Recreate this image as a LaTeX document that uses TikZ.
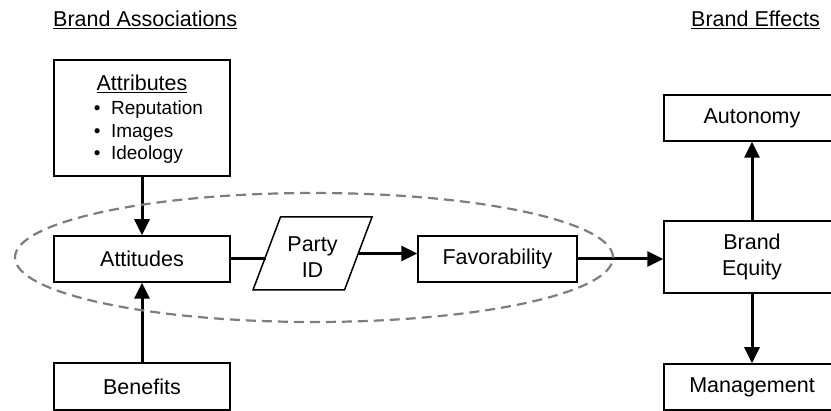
\documentclass[tikz,border=0pt]{standalone}
\usepackage{fontspec}
\setmainfont{Liberation Sans}
\usepackage{tikz}
\usetikzlibrary{shapes.geometric, arrows.meta, positioning}
\definecolor{ovalgray}{RGB}{125,125,125}

\begin{document}
\begin{tikzpicture}[x=1pt, y=-1pt, >={Triangle[length=16pt,width=15pt]},
    blockbox/.style={draw, line width=1.5pt, minimum width=176pt, minimum height=46pt, inner sep=0pt, align=center, font=\fontsize{21.5}{26}\selectfont},
    flow/.style={->, line width=3pt},
    heading/.style={anchor=base west, inner sep=0pt, font=\fontsize{21.5}{26}\selectfont},
    item/.style={anchor=base west, inner sep=0pt, font=\fontsize{19}{22}\selectfont}]
    \useasboundingbox (0,0) rectangle (831,411);
    \clip (0,0) rectangle (831,411);

    % Column headings
    \node[heading] (assoc) at (53,27) {\underline{Brand Associations}};
    \node[heading] (effects) at (691,27) {\underline{Brand Effects}};

    % Brand associations
    \node[blockbox, minimum height=116pt] (attr) at (142,118) {};
    \node[heading, anchor=base] (attrtitle) at (142,91) {\underline{Attributes}};
    \node[item] (rep) at (93.7,115) {\textbullet\hspace{10.5pt}Reputation};
    \node[item] (img) at (93.7,137.5) {\textbullet\hspace{10.5pt}Images};
    \node[item] (ideo) at (93.7,160) {\textbullet\hspace{10.5pt}Ideology};
    \node[blockbox] (att) at (142,259) {Attitudes};
    \node[blockbox, minimum height=47pt] (benef) at (142,386.5) {Benefits};

    % Party ID and favorability
    \node[draw, trapezium, trapezium left angle=56, trapezium right angle=124,
          trapezium stretches body, minimum width=119pt, minimum height=73pt,
          line width=1.5pt, inner sep=0pt, align=center,
          font=\fontsize{21.5}{26}\selectfont] (party) at (312.5,253.5) {\phantom{Party}\\\phantom{ID}};
    \node[align=center, inner sep=0pt, font=\fontsize{21.5}{26}\selectfont] (partytxt) at (312.5,257.5) {Party\\ID};
    \node[blockbox, minimum width=159pt] (favor) at (497.5,259) {Favorability};

    % Brand effects
    \node[blockbox, minimum height=72pt] (equity) at (752,257) {Brand\\Equity};
    \node[blockbox] (auto) at (752,118) {Autonomy};
    \node[blockbox] (mgmt) at (752,387) {Management};

    % Connectors
    \draw[flow] (attr) -- (att);
    \draw[flow] (benef) -- (att);
    \draw[line width=3pt] (att.east) -- (att.east -| party.west);
    \draw[flow] (party.east) -- (party.east -| favor.west);
    \draw[flow] (favor.east) -- (favor.east -| equity.west);
    \draw[flow] (equity) -- (auto);
    \draw[flow] (equity) -- (mgmt);

    % Dashed oval round the associations
    \draw[ovalgray, line width=2.2pt, dash pattern=on 10pt off 6pt] (314,257.5) ellipse [x radius=299pt, y radius=64.5pt];
\end{tikzpicture}
\end{document}
